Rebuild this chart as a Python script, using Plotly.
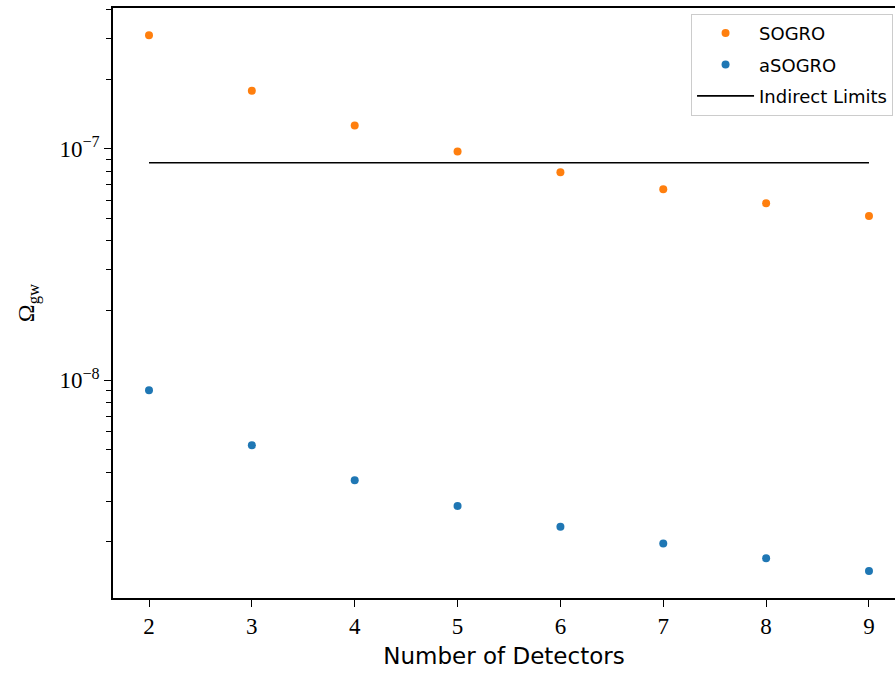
import math
import plotly.graph_objects as go

# Number of detectors in the network
n_detectors = [2, 3, 4, 5, 6, 7, 8, 9]

# Sensitivity to the stochastic background, Omega_gw
sogro = [3.09e-7, 1.78e-7, 1.26e-7, 9.73e-8, 7.92e-8, 6.69e-8, 5.81e-8, 5.12e-8]
asogro = [9.05e-9, 5.23e-9, 3.70e-9, 2.86e-9, 2.33e-9, 1.97e-9, 1.70e-9, 1.50e-9]

# Indirect limit (constant across detector count)
limit_x = [2, 9]
limit_y = [8.70e-8, 8.70e-8]

major_ticks = [1e-8, 1e-7]
major_text = ["10<sup>\u22128</sup>", "10<sup>\u22127</sup>"]
minor_ticks = [m * 10.0 ** e for e in (-9, -8, -7) for m in range(2, 10)]

SERIF = "Liberation Serif, DejaVu Serif, serif"
SANS = "DejaVu Sans, sans-serif"
Y_RANGE = [-8.941, -6.392]

fig = go.Figure()
fig.add_trace(go.Scatter(
    x=n_detectors, y=sogro, mode="markers", name="SOGRO", legendgroup="a",
    marker=dict(color="#ff7f0e", size=8),
))
fig.add_trace(go.Scatter(
    x=n_detectors, y=asogro, mode="markers", name="aSOGRO", legendgroup="b",
    marker=dict(color="#1f77b4", size=8),
))
fig.add_trace(go.Scatter(
    x=limit_x, y=limit_y, mode="lines", name="Indirect Limits", legendgroup="c",
    line=dict(color="black", width=1.6),
))

fig.update_layout(
    width=895, height=673,
    margin=dict(l=113, r=0, t=8, b=75),
    plot_bgcolor="white", paper_bgcolor="white",
    showlegend=True,
    legend=dict(
        x=0.9975, y=0.99, xanchor="right", yanchor="top",
        bgcolor="white", bordercolor="#cccccc", borderwidth=1,
        font=dict(family=SANS, size=18, color="black"),
        tracegroupgap=5, itemwidth=57,
    ),
)

fig.update_xaxes(
    range=[1.65, 9.253],
    tickmode="array", tickvals=n_detectors,
    ticktext=[str(v) for v in n_detectors],
    tickfont=dict(family=SERIF, size=23, color="black"),
    showline=True, linecolor="black", linewidth=1.5, mirror=True,
    ticks="outside", ticklen=7, tickwidth=1.3, tickcolor="black",
    showgrid=False, zeroline=False,
    title=dict(text="Number of Detectors",
               font=dict(family=SANS, size=23, color="black"), standoff=10),
)

fig.update_yaxes(
    type="log", range=Y_RANGE,
    tickmode="array", tickvals=major_ticks, ticktext=major_text,
    tickfont=dict(family=SERIF, size=23, color="black"),
    showline=True, linecolor="black", linewidth=1.5, mirror=False,
    ticks="outside", ticklen=7, tickwidth=1.3, tickcolor="black",
    minor=dict(tickmode="array", tickvals=minor_ticks, ticks="outside",
               ticklen=5, tickwidth=1.2, tickcolor="black", showgrid=False),
    showgrid=False, zeroline=False,
    title=dict(text="\u03a9<sub>gw</sub>",
               font=dict(family=SERIF, size=24, color="black"), standoff=18),
)

# Short minor ticks just outside the left spine (log axis shapes take log10 values)
for v in minor_ticks:
    fig.add_shape(
        type="line", xref="paper", yref="y",
        x0=-0.0085, x1=-0.0005, y0=math.log10(v), y1=math.log10(v),
        line=dict(color="black", width=1.2), layer="above",
    )

fig.write_html("out.html")
